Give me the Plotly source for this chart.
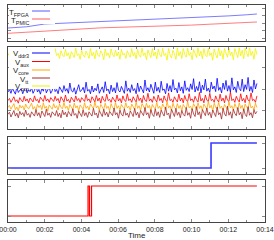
import numpy as np
import plotly.graph_objects as go

W, H = 274, 240
T_END = 13.56  # minutes

# ---- data ----
temp_t = [0, 1, 2, 3, 4, 5, 6, 7, 8, 9, 10, 11, 12, 13, 13.56]
t_fpga = [52.67, 52.99, 53.73, 53.95, 54.16, 54.32, 54.51, 54.67, 54.91, 55.12, 55.39, 55.63, 55.89, 56.19, 56.40]
t_pmic = [51.25, 51.55, 51.95, 52.24, 52.51, 52.69, 52.85, 52.96, 53.04, 53.23, 53.44, 53.68, 53.89, 54.13, 54.27]

# voltages in mV
v_ddr3 = [993, 999, 990, 1002, 995, 988, 1004, 992, 997, 1001, 989, 996, 1006, 991, 998, 994, 1003,
          990, 997, 1009, 993, 999, 988, 1002, 995, 1011, 991, 998, 1004, 990, 996, 1013, 994, 999,
          989, 1005, 997, 992, 1008, 995, 1001, 990, 1014, 996, 993, 1003, 988, 999, 1010, 994, 997,
          1004, 991, 1016, 995, 999, 989, 1007, 993, 1002, 996, 1012, 990, 998, 1005, 992, 1017, 996,
          1000, 989, 1009, 994, 1003, 991, 1015, 997, 993, 1006, 999, 990, 1019, 995, 1002, 992, 1010,
          996, 1001, 989, 1014, 994, 1007, 998, 991, 1021, 996, 1003, 993, 1011, 999, 990, 1016, 995,
          1004, 992, 1018, 997, 1000, 989, 1013, 995, 1008, 993, 1022, 998, 1002, 991, 1015, 996, 1005,
          990, 1019, 997, 1003, 994, 1012, 999, 1024, 993, 1006, 996, 1017, 991, 1009, 998, 1023, 995,
          1002, 992, 1016, 1000, 1007, 994, 1025, 997, 1004, 991, 1014, 999, 1020, 995, 1008, 993, 1026,
          998, 1005, 992, 1018, 1001, 996, 1023, 994, 1010, 999, 1027, 995, 1006, 992, 1021, 1000, 1013]
v_aux = [973, 978, 969, 976, 982, 971, 975, 967, 980, 974, 970, 983, 972, 977, 968, 979, 975,
         970, 984, 973, 976, 968, 981, 974, 971, 985, 972, 977, 969, 980, 975, 971, 983, 973,
         978, 967, 982, 974, 970, 986, 972, 976, 968, 981, 975, 970, 984, 973, 978, 969, 980,
         974, 971, 987, 973, 977, 968, 982, 975, 970, 985, 972, 979, 967, 983, 974, 971, 988,
         973, 976, 969, 981, 975, 970, 986, 972, 978, 968, 984, 974, 971, 989, 973, 977, 969,
         982, 975, 970, 987, 973, 979, 968, 985, 974, 971, 990, 972, 977, 969, 983, 975, 970,
         986, 973, 978, 968, 984, 974, 971, 991, 973, 976, 969, 982, 975, 970, 988, 972, 979,
         968, 985, 974, 971, 989, 973, 977, 969, 983, 975, 970, 992, 972, 978, 968, 986, 974,
         971, 990, 973, 976, 969, 984, 975, 970, 988, 972, 979, 968, 985, 974, 971, 993, 973,
         977, 969, 983, 975, 970, 989, 972, 978, 968, 986, 974, 971, 991, 973, 976, 969, 984]
v_core = [957, 962, 953, 960, 966, 952, 958, 949, 963, 956, 961, 951, 965, 957, 954, 960, 967,
          953, 959, 950, 964, 957, 962, 952, 968, 955, 960, 949, 963, 958, 953, 966, 956, 961,
          951, 965, 957, 954, 969, 955, 960, 950, 964, 958, 952, 967, 956, 961, 949, 963, 957,
          953, 968, 955, 960, 951, 965, 958, 954, 970, 956, 961, 950, 964, 957, 952, 967, 955,
          960, 949, 966, 957, 953, 969, 955, 961, 951, 964, 958, 954, 968, 956, 960, 950, 965,
          957, 952, 970, 955, 961, 950, 966, 958, 953, 967, 956, 962, 949, 964, 957, 954, 969,
          955, 960, 951, 965, 958, 952, 971, 956, 961, 950, 967, 957, 953, 966, 955, 962, 949,
          964, 958, 954, 970, 956, 960, 951, 966, 957, 952, 968, 955, 961, 950, 965, 958, 953,
          971, 956, 962, 949, 967, 957, 954, 969, 955, 960, 951, 964, 958, 952, 970, 956, 961,
          950, 966, 957, 953, 968, 955, 962, 949, 965, 958, 954, 971, 956, 960, 951, 967, 957]
v_tt = [941, 946, 935, 943, 950, 937, 944, 933, 948, 940, 945, 936, 951, 939, 943, 934, 947,
        942, 937, 952, 938, 945, 933, 949, 941, 936, 953, 939, 944, 934, 947, 942, 938, 950,
        936, 944, 933, 951, 940, 946, 935, 948, 942, 937, 954, 939, 943, 932, 949, 941, 936,
        952, 938, 945, 934, 947, 943, 937, 955, 940, 944, 933, 950, 941, 936, 953, 939, 946,
        935, 948, 942, 938, 956, 940, 945, 932, 951, 941, 937, 954, 939, 944, 934, 949, 943,
        936, 955, 939, 946, 933, 950, 942, 938, 957, 940, 945, 932, 952, 941, 936, 954, 938,
        947, 934, 951, 943, 937, 958, 940, 944, 931, 953, 942, 936, 955, 939, 946, 933, 950,
        941, 937, 957, 939, 945, 932, 954, 942, 936, 959, 940, 947, 931, 952, 943, 938, 956,
        939, 946, 933, 951, 941, 936, 958, 940, 945, 930, 955, 942, 937, 960, 939, 947, 932,
        953, 943, 938, 957, 940, 946, 931, 954, 941, 936, 959, 939, 945, 933, 952, 942, 948]
v_ccp = [1078, 1085, 1072, 1081, 1089, 1074, 1080, 1069, 1087, 1077, 1083, 1071, 1091, 1079, 1074, 1086, 1080,
         1075, 1093, 1078, 1084, 1070, 1088, 1079, 1073, 1090, 1077, 1082, 1069, 1086, 1080, 1074, 1094, 1078,
         1083, 1071, 1089, 1079, 1075, 1092, 1077, 1084, 1070, 1087, 1080, 1073, 1095, 1078, 1082, 1069, 1090,
         1079, 1074, 1088, 1081, 1071, 1094, 1077, 1085, 1070, 1091, 1079, 1075, 1089, 1082, 1068, 1093, 1078,
         1084, 1072, 1093, 1080, 1075, 1090, 1077, 1086, 1069, 1092, 1079, 1083, 1071, 1089, 1080, 1074, 1094,
         1077, 1085, 1070, 1092, 1079, 1074, 1095, 1078, 1084, 1068, 1091, 1081, 1073, 1094, 1077, 1086, 1070,
         1093, 1080, 1075, 1095, 1078, 1083, 1067, 1094, 1079, 1072, 1090, 1082, 1069, 1096, 1077, 1087, 1071,
         1094, 1080, 1074, 1095, 1078, 1085, 1068, 1092, 1081, 1073, 1096, 1077, 1088, 1070, 1094, 1079, 1075,
         1095, 1078, 1084, 1067, 1093, 1080, 1072, 1096, 1077, 1089, 1069, 1094, 1081, 1074, 1095, 1078, 1086,
         1068, 1094, 1080, 1073, 1096, 1077, 1090, 1070, 1095, 1082, 1075, 1096, 1078, 1087, 1069, 1094, 1080]

sig1_t = [0, 11.06, 13.56]
sig1_v = [0, 1, 1]
sig2_t = [0, 4.36, 4.44, 4.55, 13.56]
sig2_v = [0, 1, 0, 1, 1]

xtick_vals = [0, 2, 4, 6, 8, 10, 12, 14]
xtick_text = ["00:00", "00:02", "00:04", "00:06", "00:08", "00:10", "00:12", "00:14"]

# ---- helpers ----
def px(x):
    return x / W

def py(y):
    return 1 - y / H

FONT = "Liberation Sans, Arial, sans-serif"

fig = go.Figure()

def add(x, y, color, width, axis, shape="linear"):
    fig.add_trace(go.Scatter(x=x, y=y, mode="lines", line=dict(color=color, width=width, shape=shape),
                             xaxis="x" + axis, yaxis="y" + axis, showlegend=False, hoverinfo="skip"))

add(temp_t, t_fpga, "#5a5aff", 0.8, "")
add(temp_t, t_pmic, "#ff5a5a", 0.8, "")

def vx(vals):
    return np.linspace(0, T_END, len(vals))

add(vx(v_ccp), np.array(v_ccp) / 1000, "#f2f200", 0.8, "2")
add(vx(v_ddr3), np.array(v_ddr3) / 1000, "#0000ff", 0.8, "2")
add(vx(v_aux), np.array(v_aux) / 1000, "#ff0000", 0.8, "2")
add(vx(v_core), np.array(v_core) / 1000, "#ffa500", 0.8, "2")
add(vx(v_tt), np.array(v_tt) / 1000, "#a52a2a", 0.8, "2")

add(sig1_t, sig1_v, "#3a3aff", 1.6, "3", "hv")
add(sig2_t, sig2_v, "#ff0000", 1.2, "4", "hv")

xdom = [px(8), px(265)]
ydoms = [[py(41), py(5)], [py(129), py(47)], [py(174), py(137)], [py(222), py(180)]]
yranges = [[49.2, 58.8], [0.907, 1.0977], [-0.24, 1.24], [-0.2, 1.2]]
ydticks = [2, 0.05, 1, 1]
yticks0 = [50, 0.95, 0, 0]

axis_common = dict(showline=True, linecolor="#444", linewidth=1.3, mirror="ticks", ticks="inside",
                   ticklen=3, tickcolor="#888", tickwidth=1, showgrid=False, zeroline=False,
                   automargin=False)

layout = dict(width=W, height=H, margin=dict(l=0, r=0, t=0, b=0), paper_bgcolor="white",
              plot_bgcolor="white", showlegend=False)

for i in range(4):
    sx = "" if i == 0 else str(i + 1)
    xa = dict(axis_common, domain=xdom, range=[0, 14], anchor="y" + sx,
              tickmode="array", tickvals=xtick_vals,
              minor=dict(ticks="inside", ticklen=2, tickcolor="#888", dtick=1, tick0=0))
    if i == 3:
        xa.update(ticktext=xtick_text, ticklabeloverflow="allow",
                  tickfont=dict(size=7, color="#222", family=FONT))
    else:
        xa.update(showticklabels=False)
    ya = dict(axis_common, domain=ydoms[i], range=yranges[i], anchor="x" + sx,
              showticklabels=False, tick0=yticks0[i], dtick=ydticks[i])
    layout["xaxis" + sx] = xa
    layout["yaxis" + sx] = ya

fig.update_layout(**layout)

# opaque keys
shapes = []
annotations = []

def key_box(y0, y1):
    shapes.append(dict(type="rect", xref="paper", yref="paper", x0=px(9), x1=px(55), y0=py(y1), y1=py(y0),
                       fillcolor="white", line=dict(width=0), layer="above"))

def key_item(label, color, ymid):
    shapes.append(dict(type="line", xref="paper", yref="paper", x0=px(32), x1=px(50), y0=py(ymid), y1=py(ymid),
                       line=dict(color=color, width=1), layer="above"))
    annotations.append(dict(text=label, xref="paper", yref="paper", x=px(30.5), y=py(ymid + 1.5),
                            xanchor="right", yanchor="middle", showarrow=False,
                            font=dict(size=7.8, color="#222", family=FONT)))

key_box(6, 24)
key_item("T<sub>FPGA</sub>", "#5a5aff", 11)
key_item("T<sub>PMIC</sub>", "#ff5a5a", 19)

key_box(48, 89)
key_item("V<sub>ddr3</sub>", "#0000ff", 53)
key_item("V<sub>aux</sub>", "#ff0000", 61.5)
key_item("V<sub>core</sub>", "#ffa500", 70)
key_item("V<sub>tt</sub>", "#a52a2a", 78)
key_item("V<sub>ccp</sub>", "#f2f200", 86)

# x-axis title
annotations.append(dict(text="Time", xref="paper", yref="paper", x=px(136.5), y=py(235.5),
                        xanchor="center", yanchor="middle", showarrow=False,
                        font=dict(size=8, color="#222", family=FONT)))

fig.update_layout(shapes=shapes, annotations=annotations)

fig.write_html("out.html", config={"displayModeBar": False},
               post_script="document.body.style.margin='0';document.body.style.overflow='hidden';")
